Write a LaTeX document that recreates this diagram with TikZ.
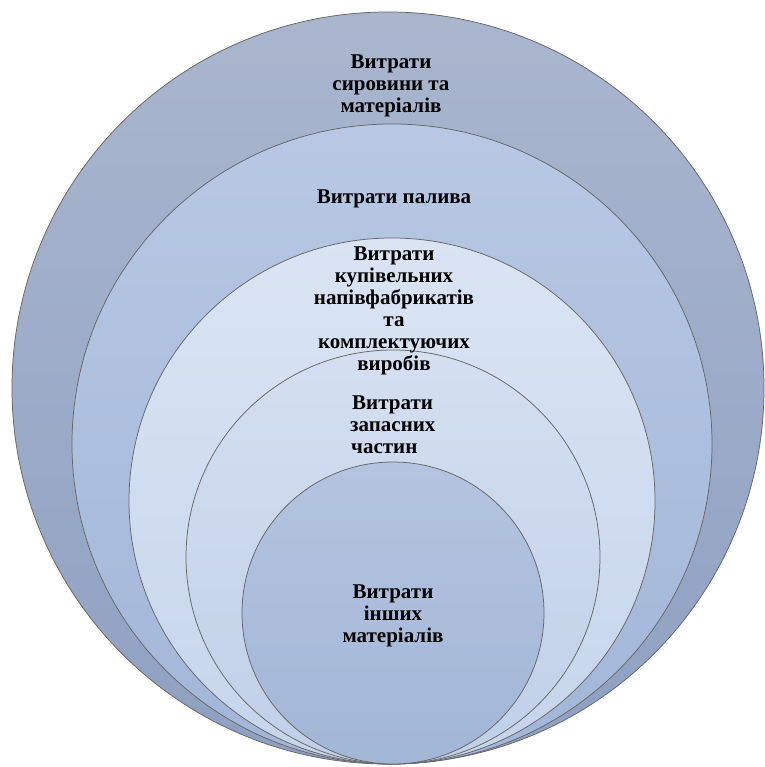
\documentclass[tikz,border=0pt]{standalone}
\usepackage{fontspec}
\setmainfont{Liberation Serif}[BoldFont={Liberation Serif Bold}]
\newfontfamily\labelfont{Liberation Serif Bold}
\begin{document}
\begin{tikzpicture}[x=1pt,y=-1pt,
  ring/.style={draw=black!60, line width=0.75pt},
  lbl/.style={font=\labelfont\fontsize{21}{22}\selectfont, align=center, inner sep=0pt}]
\definecolor{c1t}{RGB}{170,182,206}
\definecolor{c1b}{RGB}{142,160,194}
\definecolor{c2t}{RGB}{184,200,228}
\definecolor{c2b}{RGB}{162,182,216}
\definecolor{c3t}{RGB}{218,228,243}
\definecolor{c3b}{RGB}{198,213,236}
\definecolor{c4t}{RGB}{212,223,240}
\definecolor{c4b}{RGB}{192,208,233}
\definecolor{c5t}{RGB}{180,196,224}
\definecolor{c5b}{RGB}{162,182,214}
\useasboundingbox (0,0) rectangle (764,767);
\fill[white] (0,0) rectangle (764,767);
% nested circles, all touching at the bottom
\path[ring, top color=c1t, bottom color=c1b] (388,388) circle (376);
\path[ring, top color=c2t, bottom color=c2b] (392,444) circle (320);
\path[ring, top color=c3t, bottom color=c3b] (392,501) circle (263);
\path[ring, top color=c4t, bottom color=c4b] (393,557) circle (207);
\path[ring, top color=c5t, bottom color=c5b] (393,613) circle (151);
% labels
\node[lbl] (t1) at (391,86) {Витрати\\сировини та\\матеріалів};
\node[lbl] (t2) at (394,199) {Витрати палива};
\node[lbl] (t3) at (394,311) {Витрати\\купівельних\\напівфабрикатів\\та\\комплектуючих\\виробів};
\node[lbl, align=left, anchor=west] (t4) at (350,425) {\hspace*{2pt}Витрати\\запасних\\\hspace*{1pt}частин};
\node[lbl] (t5) at (393,616) {Витрати\\інших\\матеріалів};
\end{tikzpicture}
\end{document}
